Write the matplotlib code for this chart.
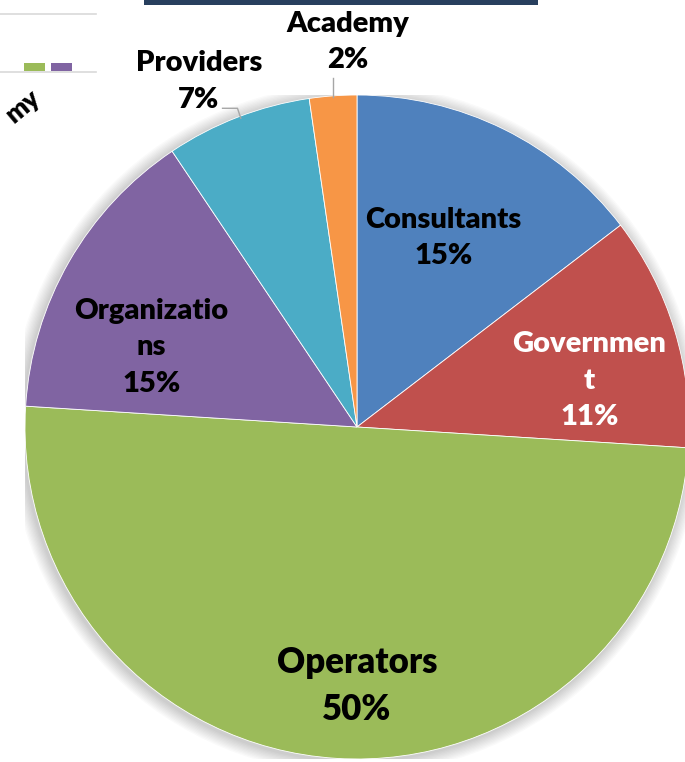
import matplotlib.pyplot as plt
import matplotlib.patches as mpatches
from matplotlib.lines import Line2D

# data
sectors = ['Consultants', 'Governmen\nt', 'Operators', 'Organizatio\nns', 'Providers', 'Academy']
shares = [14.6, 11.4, 50.0, 14.6, 7.1, 2.3]
colors = ['#4F81BD', '#C0504D', '#9BBB59', '#8064A2', '#4BACC6', '#F79646']
text_colors = ['black', 'white', 'black', 'black', 'black', 'black']

W, H = 685, 762
fig = plt.figure(figsize=(W / 100, H / 100), dpi=100)
plt.rcParams['font.family'] = ['Lato', 'DejaVu Sans']

# pie sits in pixel box centre (357, 427), radius ~332
cx, cy, r = 357, 427, 332
ax = fig.add_axes([(cx - r) / W, (H - cy - r) / H, 2 * r / W, 2 * r / H])
ax.axis('off')

# soft shadow around the pie
for k in range(10):
    ax.add_patch(mpatches.Circle((-0.005, -0.006), 1.0 + 0.004 * (k + 1),
                                 color='#000000', alpha=0.02, lw=0, zorder=0))

wedges, _ = ax.pie(shares, colors=colors, startangle=90, counterclock=False,
                   radius=1.0, wedgeprops=dict(linewidth=0.6, edgecolor='white'))
for w in wedges:
    w.set_zorder(2)
ax.set_xlim(-1, 1)
ax.set_ylim(-1, 1)
ax.set_aspect('auto')

# label positions (in pie units)
pos = [(0.26, 0.57), (0.70, 0.14), (0.0, -0.78), (-0.62, 0.24), (-0.476, 1.04), (-0.027, 1.16)]
sizes = [21, 21, 25, 21, 21, 21]
for name, val, (x, y), c, s in zip(sectors, shares, pos, text_colors, sizes):
    ax.text(x, y, '%s\n%.0f%%' % (name, val), ha='center', va='center', color=c,
            fontsize=s, fontweight='heavy', linespacing=1.5, zorder=5, clip_on=False)

# leader lines for outside labels
ax.plot([-0.405, -0.36, -0.35], [0.96, 0.96, 0.93], color='#a6a6a6', lw=1, zorder=3, clip_on=False)
ax.plot([-0.072, -0.072], [1.05, 0.995], color='#a6a6a6', lw=1, zorder=3, clip_on=False)

# fragments of neighbouring slide elements
fig.add_artist(mpatches.Rectangle((144 / W, 1 - 5 / H), (538 - 144) / W, 5 / H,
                                  transform=fig.transFigure, color='#283f5e', lw=0))
fig.add_artist(Line2D([0, 96 / W], [1 - 14 / H, 1 - 14 / H], color='#d9d9d9', lw=1.2))
fig.add_artist(Line2D([0, 96 / W], [1 - 72 / H, 1 - 72 / H], color='#d9d9d9', lw=1.2))
fig.add_artist(mpatches.Rectangle((24 / W, 1 - 71 / H), 21 / W, 8 / H,
                                  transform=fig.transFigure, color='#9BBB59', lw=0))
fig.add_artist(mpatches.Rectangle((51 / W, 1 - 71 / H), 21 / W, 8 / H,
                                  transform=fig.transFigure, color='#8064A2', lw=0))
fig.text(1 / W, 1 - 106 / H, 'my', rotation=40, fontsize=19, fontweight='heavy',
         ha='left', va='center')

fig.savefig('out.png', dpi=100)
